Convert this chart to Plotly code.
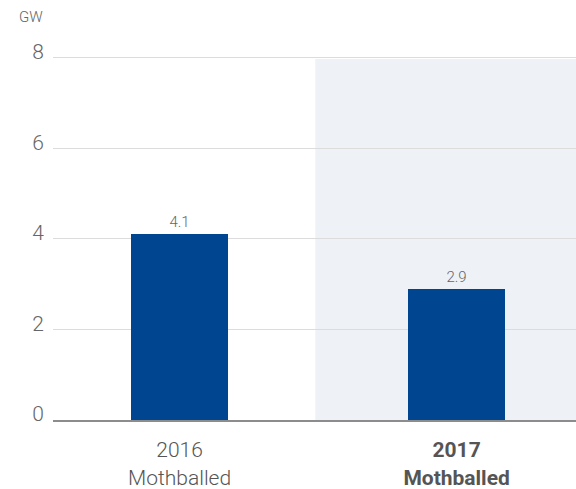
import plotly.graph_objects as go

categories = ["2016<br>Mothballed", "<b>2017</b><br><b>Mothballed</b>"]
values = [4.1, 2.9]
value_labels = ["4.1", "2.9"]
y_ticks = [0, 2, 4, 6, 8]

FONT = "Roboto"
xs = [0, 1]

PLOT_H = 366
PLOT_W = 523
TOP = 54

fig = go.Figure()
fig.add_trace(go.Bar(
    x=xs, y=values, width=0.35,
    marker=dict(color="#00458f", line=dict(width=0)),
    text=value_labels, textposition="outside", cliponaxis=False,
    textfont=dict(family=FONT, size=15, color="#666666", weight=300),
    hoverinfo="skip",
))

fig.add_shape(type="rect", xref="x", yref="y", x0=0.49, x1=1.5,
              y0=-1.6, y1=7.98, fillcolor="#eef2f6", line=dict(width=0),
              layer="below")

fig.update_layout(
    width=576, height=489,
    margin=dict(l=53, r=0, t=TOP, b=489 - TOP - PLOT_H),
    paper_bgcolor="white", plot_bgcolor="white",
    showlegend=False, bargap=0,
    font=dict(family=FONT, color="#666666"),
    xaxis=dict(
        range=[-0.457, 1.431], tickmode="array", tickvals=xs, ticktext=categories,
        showgrid=False, zeroline=False, showline=True, linecolor="#8c8c8c",
        linewidth=2, tickfont=dict(family=FONT, size=21, color="#555555", weight=300),
        ticks="outside", ticklen=10, tickcolor="rgba(0,0,0,0)", fixedrange=True,
    ),
    yaxis=dict(
        range=[0, 8.088], tickmode="array", tickvals=y_ticks,
        showgrid=True, gridcolor="#dcdcdc", gridwidth=1, zeroline=False,
        showline=False, tickfont=dict(family=FONT, size=21, color="#666666", weight=300),
        ticklabelstandoff=8, ticklabelshift=-6, fixedrange=True,
    ),
    annotations=[dict(text="GW", xref="paper", yref="paper", x=-53 / PLOT_W, y=1 + 37 / PLOT_H,
                      xanchor="left", yanchor="middle", xshift=17, showarrow=False,
                      font=dict(family=FONT, size=15, color="#666666", weight=300))],
)

fig.write_html(
    "out.html",
    config={"displayModeBar": False},
    post_script="document.body.style.margin='0';document.body.style.overflow='hidden';",
)
